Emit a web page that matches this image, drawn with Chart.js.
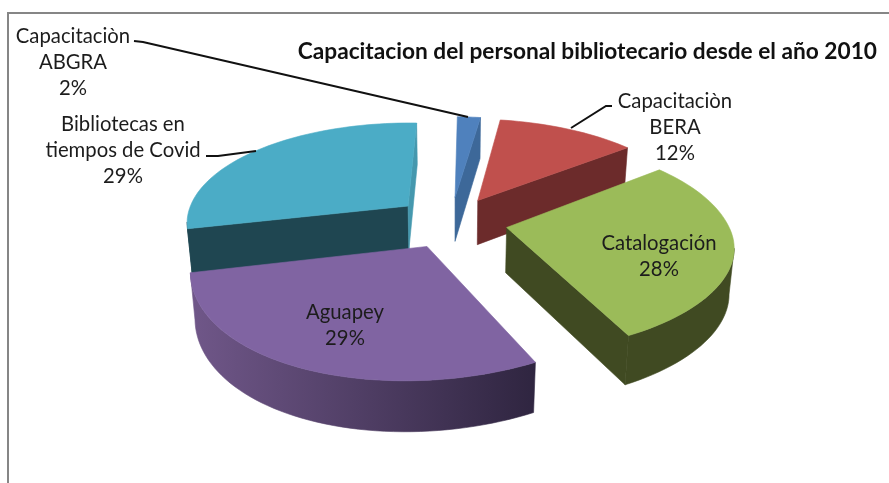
<!DOCTYPE html>
<html>
<head>
<meta charset="utf-8">
<style>
html, body { margin: 0; background: #fff; overflow: hidden; }
#frame { position: absolute; left: 7px; top: 12px; width: 900px; height: 500px; border-left: 2px solid #868686; border-top: 2px solid #868686; }
#wrap { position: absolute; left: 0; top: 0; width: 889px; height: 483px; }
</style>
</head>
<body>
<div id="frame"></div>
<div id="wrap"><canvas id="pie" width="889" height="483"></canvas></div>
<script src="https://cdn.jsdelivr.net/npm/chart.js@4/dist/chart.umd.min.js"></script>
<script>
// --- Data ---
const categories = [
    ['Capacitaciòn', 'ABGRA'],
    ['Capacitaciòn', 'BERA'],
    ['Catalogación'],
    ['Aguapey'],
    ['Bibliotecas en', 'tiempos de Covid']
];
const percents = [2, 12, 28, 29, 29];
const chartTitle = 'Capacitacion del personal bibliotecario desde el año 2010';

// --- Styles ---
const topColors = ['#4f81bd', '#c0504d', '#9bbb59', '#8064a2', '#4bacc6'];
const sideColors = ['#3d6899', '#6c2b2b', '#404a22', '#33273f', '#1f4651'];
const endSideColors = ['#3d6899', '#6c2b2b', '#404a22', '#33273f', '#4598ae'];
const wallStops = [
    ['#3d6899', '#3d6899'],
    ['#6c2b2b', '#6c2b2b'],
    ['#404a22', '#404a22'],
    ['#705789', '#2f2540'],
    ['#1f4651', '#1f4651']
];
const explode = [38, 38, 38, 38, 38];
const drawOrder = [0, 1, 4, 2, 3];
const view = { cx: 451, cy: 222, rx: 222, ry: 102, perspX: 0.16, perspY: 0.17, tilt: 2.5, depth: 45, depthPersp: 0.5, inset: 0.018 };

// label centres and leader lines
const labelPlaces = [[73, 36], [675, 101], [659, 243], [345, 312], [123, 124]];
const lineStep = 26.3;
const leaders = [
    [[134, 41], [143, 42], [468, 117]],
    [[612, 106], [606, 106], [571, 128]],
    null,
    null,
    [[206, 156], [218, 156], [256, 151]]
];

// plane (u, v) to screen, v points at the viewer, z goes down the wall
function project(u, v, z) {
    const sx = 1 / (1 - view.perspX * v);
    const sy = 1 / (1 - view.perspY * v);
    const skew = v > 0 ? -15 * v * v : -2.7 * v;
    return {
        x: view.cx + view.rx * u * sx * (1 - z * view.inset) + skew,
        y: view.cy + view.ry * v * sy + view.tilt * u + z * view.depth * (1 + (sy - 1) * view.depthPersp)
    };
}

function fillPoly(ctx, pts, color, edge) {
    ctx.beginPath();
    pts.forEach((p, i) => i ? ctx.lineTo(p.x, p.y) : ctx.moveTo(p.x, p.y));
    ctx.closePath();
    ctx.fillStyle = color;
    ctx.fill();
    if (edge) {
        ctx.strokeStyle = color;
        ctx.lineWidth = 0.6;
        ctx.stroke();
    }
}

function drawSlice(ctx, arc, index) {
    const start = arc.startAngle, end = arc.endAngle;
    const mid = (start + end) / 2;
    const ex = arc.options.offset / arc.outerRadius;
    const ox = ex * Math.cos(mid), oy = ex * Math.sin(mid);
    const steps = Math.max(6, Math.ceil((end - start) * 30));

    const rim = [];
    for (let i = 0; i <= steps; i++) {
        const a = start + (end - start) * i / steps;
        rim.push([ox + Math.cos(a), oy + Math.sin(a)]);
    }
    const apex = [ox, oy];
    const up = p => project(p[0], p[1], 0);
    const down = p => project(p[0], p[1], 1);

    const topRim = rim.map(up);
    const minX = Math.min(...topRim.map(p => p.x));
    const maxX = Math.max(...topRim.map(p => p.x));
    const grad = ctx.createLinearGradient(minX, 0, maxX, 0);
    grad.addColorStop(0, wallStops[index][0]);
    grad.addColorStop(1, wallStops[index][1]);

    // cut faces and outer wall, only the ones facing the viewer
    const facing = (a, b) => up(b).x < up(a).x;
    if (facing(apex, rim[0])) fillPoly(ctx, [up(apex), up(rim[0]), down(rim[0]), down(apex)], sideColors[index], true);
    const run = rim.filter((p, i) => (i < steps && facing(p, rim[i + 1])) || (i > 0 && facing(rim[i - 1], p)));
    if (run.length > 1) fillPoly(ctx, [...run.map(up), ...run.slice().reverse().map(down)], grad, true);
    if (facing(rim[steps], apex)) fillPoly(ctx, [up(rim[steps]), up(apex), down(apex), down(rim[steps])], endSideColors[index], true);

    fillPoly(ctx, [up(apex), ...topRim], topColors[index], true);
}

const pie3d = {
    id: 'pie3d',
    beforeDatasetDraw(chart, args) {
        const arcs = args.meta.data;
        drawOrder.forEach(i => drawSlice(chart.ctx, arcs[i], i));
        return false;
    },
    afterDraw(chart) {
        const ctx = chart.ctx;
        ctx.save();
        ctx.strokeStyle = '#111';
        ctx.lineWidth = 2;
        leaders.forEach(line => {
            if (!line) return;
            ctx.beginPath();
            line.forEach((p, i) => i ? ctx.lineTo(p[0], p[1]) : ctx.moveTo(p[0], p[1]));
            ctx.stroke();
        });
        ctx.fillStyle = '#1c1c1c';
        ctx.font = '20.3px Lato';
        ctx.textAlign = 'center';
        ctx.textBaseline = 'middle';
        categories.forEach((lines, i) => {
            const all = [...lines, percents[i] + '%'];
            all.forEach((t, j) => ctx.fillText(t, labelPlaces[i][0], labelPlaces[i][1] + j * lineStep));
        });
        ctx.restore();
    }
};

new Chart(document.getElementById('pie').getContext('2d'), {
    type: 'pie',
    data: {
        labels: categories,
        datasets: [{
            data: percents,
            backgroundColor: topColors,
            borderWidth: 0,
            offset: explode
        }]
    },
    options: {
        responsive: false,
        animation: false,
        radius: 150,
        layout: { padding: { right: 12 } },
        plugins: {
            legend: { display: false },
            tooltip: { enabled: false },
            title: {
                display: true,
                text: chartTitle,
                align: 'end',
                color: '#111',
                padding: { top: 38, bottom: 0 },
                font: { family: 'Lato', size: 22.7, weight: 'bold', lineHeight: 1.2 }
            }
        }
    },
    plugins: [pie3d]
});
</script>
</body>
</html>
